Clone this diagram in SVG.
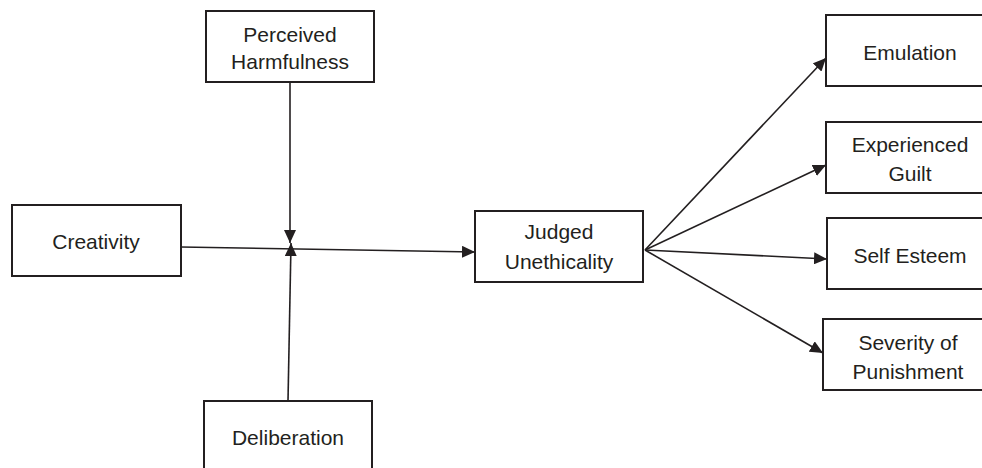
<svg xmlns="http://www.w3.org/2000/svg" width="982" height="468" viewBox="0 0 982 468">
<style>
.box{fill:#fff;stroke:#231f20;stroke-width:2}
.lbl{font-family:"Liberation Sans",Arial,sans-serif;font-size:21px;fill:#231f20;text-anchor:middle}
.edge{stroke:#231f20;stroke-width:1.6;fill:none;marker-end:url(#ah)}
</style>
<defs>
<marker id="ah" markerUnits="userSpaceOnUse" markerWidth="14" markerHeight="12" viewBox="0 0 14 12" refX="13" refY="6" orient="auto">
<path d="M0,0 L13,6 L0,12 Z" fill="#231f20"/>
</marker>
</defs>
<g id="connectors">
<line class="edge" x1="181" y1="247" x2="475" y2="252"/>
<line class="edge" x1="290" y1="82" x2="290" y2="243"/>
<line class="edge" x1="288" y1="401" x2="291" y2="243"/>
<line class="edge" x1="645" y1="250" x2="826" y2="58"/>
<line class="edge" x1="645" y1="250" x2="826" y2="165"/>
<line class="edge" x1="645" y1="250" x2="827" y2="259"/>
<line class="edge" x1="645" y1="250" x2="823" y2="353"/>
</g>
<g id="perceived-harmfulness">
<rect class="box" x="206" y="11" width="168" height="71"/>
<text class="lbl" x="290" y="42">Perceived</text>
<text class="lbl" x="290" y="69">Harmfulness</text>
</g>
<g id="creativity">
<rect class="box" x="12" y="205" width="169" height="71"/>
<text class="lbl" x="96" y="249">Creativity</text>
</g>
<g id="deliberation">
<rect class="box" x="204" y="401" width="168" height="72"/>
<text class="lbl" x="288" y="445">Deliberation</text>
</g>
<g id="judged-unethicality">
<rect class="box" x="475" y="211" width="168" height="71"/>
<text class="lbl" x="559" y="239">Judged</text>
<text class="lbl" x="559" y="269">Unethicality</text>
</g>
<g id="emulation">
<rect class="box" x="826" y="15" width="168" height="71"/>
<text class="lbl" x="910" y="60">Emulation</text>
</g>
<g id="experienced-guilt">
<rect class="box" x="826" y="122" width="168" height="71"/>
<text class="lbl" x="910" y="152">Experienced</text>
<text class="lbl" x="910" y="181">Guilt</text>
</g>
<g id="self-esteem">
<rect class="box" x="827" y="218" width="168" height="71"/>
<text class="lbl" x="910" y="263">Self Esteem</text>
</g>
<g id="severity-of-punishment">
<rect class="box" x="823" y="319" width="168" height="71"/>
<text class="lbl" x="908" y="350">Severity of</text>
<text class="lbl" x="908" y="379">Punishment</text>
</g>
</svg>
